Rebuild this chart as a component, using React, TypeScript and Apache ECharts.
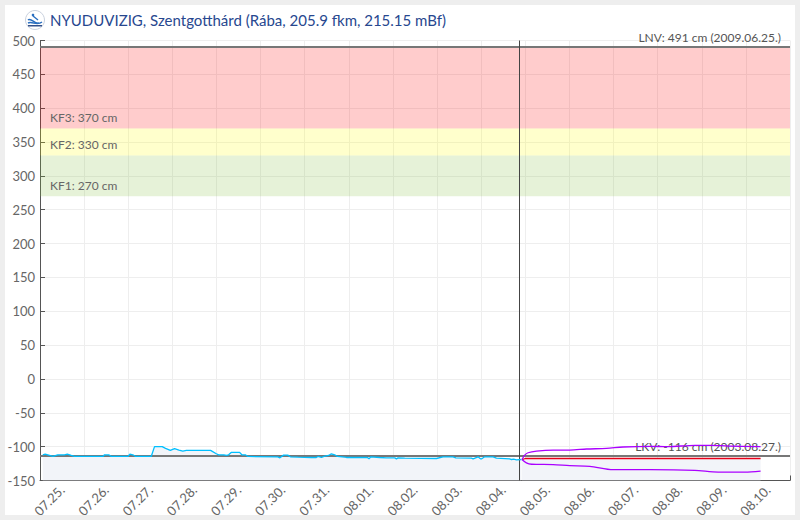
import React, { useEffect, useRef } from "react";
import * as echarts from "echarts";

const titleText = "NYUDUVIZIG, Szentgotthárd (Rába, 205.9 fkm, 215.15 mBf)";
const days = ["07.25.", "07.26.", "07.27.", "07.28.", "07.29.", "07.30.", "07.31.", "08.01.", "08.02.", "08.03.", "08.04.", "08.05.", "08.06.", "08.07.", "08.08.", "08.09.", "08.10."];

// [hours since 07.25. 00:00, water level in cm]
const observed = [
  [1.5, -112], [2.8, -111], [5.2, -113], [7, -114.5], [9.7, -112], [13.3, -112], [14.8, -111], [17, -113], [18.8, -114.5],
  [34.2, -114.5], [35.1, -112], [37.4, -112], [38.8, -114.5], [47.8, -114.5], [48.9, -111], [50.5, -112], [52, -114.5],
  [60.5, -114.5], [62.3, -100], [66.5, -100], [68.3, -102.5], [70.9, -105.5], [73.2, -103], [75.6, -105], [77.7, -106.5],
  [79.6, -105.5], [92.8, -105.5], [95.9, -110.5], [97.2, -112], [100, -112], [101.4, -113], [102.6, -112], [104, -108.5],
  [108.6, -108.5], [109.8, -112], [111.7, -112], [113.1, -114.5], [129.4, -115], [130.5, -116.5], [132.5, -112.5],
  [134.8, -112.5], [136.2, -115], [140.3, -115.5], [147.6, -116], [150.3, -116], [151.2, -114.5], [153.1, -116],
  [154.5, -114.5], [157, -113], [158.5, -110.5], [160.3, -112], [161.8, -114.5], [165.7, -115.5], [166.7, -116],
  [178.1, -116], [179, -118], [179.9, -115], [184.8, -116], [188.4, -116.5], [193, -116.5], [193.9, -118], [194.8, -116.5],
  [198.4, -117], [215.7, -117.5], [219.2, -115], [224.7, -115], [226.2, -116.5], [234.7, -117], [235.6, -118], [238.3, -115],
  [239.6, -118], [240.3, -118], [241.9, -115], [246.5, -115], [248.3, -117], [255.5, -118], [256.5, -119], [257.7, -118.5],
  [259.2, -119.5], [261.9, -119],
];
const forecast = [[262.2, -119], [264, -117.5], [300, -117.5], [350, -117.5], [392, -117.5]];
const forecastHigh = [
  [262.2, -119], [263.7, -112.5], [265.5, -109], [270.1, -106.5], [279.1, -105], [288.2, -105], [297.3, -103.5], [308.2, -102.5],
  [317.2, -100.5], [331.8, -99.5], [341.6, -100], [356.2, -98], [365.3, -98], [374.2, -99], [392, -100],
];
const forecastLow = [
  [262.2, -119], [264.6, -124], [267.4, -126], [279.1, -126.5], [288.2, -128], [299.1, -129], [311.8, -134], [331.8, -134],
  [356.2, -135], [368.9, -137.5], [383.5, -137.5], [392, -136],
];
const nowHour = 260.7;
const lnv = 491;
const lkvDrawn = -113.5;
const kf1 = 270;
const kf2 = 330;
const kf3 = 370;

const FONT = "Lato";

export default function App() {
  const ref = useRef<HTMLDivElement>(null);
  useEffect(() => {
    const chart = echarts.init(ref.current!, undefined, { renderer: "svg" });
    const zoneLabel = (text: string) => ({
      show: true,
      formatter: text,
      position: "insideBottomLeft",
      distance: 5,
      padding: [0, 0, 0, 5],
      color: "#666",
      fontSize: 12,
      fontFamily: FONT,
    });
    const refLabel = (text: string) => ({
      show: true,
      formatter: text,
      position: "insideEndTop",
      distance: 3,
      padding: [0, 6, 0, 0],
      color: "#555",
      fontSize: 12,
      fontFamily: FONT,
    });
    const areaLine = { width: 0, opacity: 0 };
    chart.setOption({
      animation: false,
      backgroundColor: "transparent",
      title: {
        text: titleText,
        left: 50,
        top: 12.5,
        padding: 0,
        textStyle: { color: "#27478f", fontSize: 15, fontWeight: "normal", fontFamily: FONT },
      },
      graphic: [
        { type: "circle", shape: { cx: 35, cy: 20, r: 9.5 }, style: { fill: "#fff", stroke: "#c9d1de", lineWidth: 1 }, silent: true },
        { type: "bezierCurve", shape: { x1: 28, y1: 20, x2: 39, y2: 23, cpx1: 31, cpy1: 17, cpx2: 35, cpy2: 25 }, style: { fill: "none", stroke: "#2a6fc0", lineWidth: 1.5 }, silent: true },
        { type: "bezierCurve", shape: { x1: 28, y1: 23, x2: 42, y2: 22, cpx1: 32, cpy1: 21, cpx2: 37, cpy2: 26 }, style: { fill: "none", stroke: "#2a6fc0", lineWidth: 1.5 }, silent: true },
        { type: "circle", shape: { cx: 33, cy: 15, r: 1.3 }, style: { fill: "#2a6fc0" }, silent: true },
        { type: "line", shape: { x1: 33, y1: 16, x2: 38, y2: 20 }, style: { stroke: "#2a6fc0", lineWidth: 1.5 }, silent: true },
        { type: "rect", shape: { x: 28, y: 25, width: 14, height: 1.5 }, style: { fill: "#33508a" }, silent: true },
      ],
      grid: { left: 40, right: 10, top: 40.5, bottom: 39.5, containLabel: false },
      xAxis: [
        {
          type: "category",
          data: days,
          boundaryGap: true,
          axisLine: { show: true, onZero: false, lineStyle: { color: "#555" } },
          axisTick: { show: true, inside: true, length: 5, interval: 0, lineStyle: { color: "#555" } },
          axisLabel: { interval: 0, rotate: 45, color: "#666", fontSize: 13, fontFamily: FONT, margin: 7 },
          splitLine: { show: true, interval: 0, lineStyle: { color: "#eee", width: 1 } },
        },
        { type: "value", min: 0, max: 408, show: false, splitLine: { show: false } },
      ],
      yAxis: {
        type: "value",
        min: -150,
        max: 500,
        interval: 50,
        axisLine: { show: true, lineStyle: { color: "#555" } },
        axisTick: { show: true, inside: true, length: 5, lineStyle: { color: "#555" } },
        axisLabel: { color: "#666", fontSize: 13, fontFamily: FONT, margin: 5 },
        splitLine: { show: true, lineStyle: { color: "#eee", width: 1 } },
      },
      series: [
        {
          type: "line",
          xAxisIndex: 1,
          data: observed,
          showSymbol: false,
          z: 3,
          lineStyle: areaLine,
          areaStyle: { color: "#f2f4f9", origin: "start", opacity: 1 },
          markArea: {
            silent: true,
            z: 1,
            data: [
              [{ yAxis: kf3, itemStyle: { color: "rgba(255,0,0,0.2)" }, label: zoneLabel(`KF3: ${kf3} cm`) }, { yAxis: lnv }],
              [{ yAxis: kf2, itemStyle: { color: "rgba(255,255,0,0.2)" }, label: zoneLabel(`KF2: ${kf2} cm`) }, { yAxis: kf3 }],
              [{ yAxis: kf1, itemStyle: { color: "rgba(130,190,60,0.2)" }, label: zoneLabel(`KF1: ${kf1} cm`) }, { yAxis: kf2 }],
            ],
          },
        },
        {
          type: "line",
          xAxisIndex: 1,
          data: forecast,
          showSymbol: false,
          z: 3,
          lineStyle: areaLine,
          areaStyle: { color: "#f2f4f9", origin: "start", opacity: 1 },
        },
        {
          type: "line",
          xAxisIndex: 1,
          data: [],
          z: 4,
          markLine: {
            silent: true,
            symbol: "none",
            data: [
              { yAxis: lnv, lineStyle: { color: "#777", width: 2, type: "solid" }, label: refLabel("LNV: 491 cm (2009.06.25.)") },
              { yAxis: lkvDrawn, lineStyle: { color: "#777", width: 2, type: "solid" }, label: refLabel("LKV: -116 cm (2003.08.27.)") },
              { xAxis: nowHour, lineStyle: { color: "#444", width: 1, type: "solid" }, label: { show: false } },
            ],
          },
        },
        {
          type: "line",
          xAxisIndex: 1,
          data: observed,
          showSymbol: false,
          z: 5,
          lineStyle: { color: "#00bfff", width: 1.3 },
        },
        {
          type: "line",
          xAxisIndex: 1,
          data: forecast,
          showSymbol: false,
          z: 5,
          lineStyle: { color: "#e8001a", width: 1.3 },
        },
        {
          type: "line",
          xAxisIndex: 1,
          data: forecastHigh,
          showSymbol: false,
          smooth: 0.3,
          z: 5,
          lineStyle: { color: "#aa00ff", width: 1.3 },
        },
        {
          type: "line",
          xAxisIndex: 1,
          data: forecastLow,
          showSymbol: false,
          smooth: 0.3,
          z: 5,
          lineStyle: { color: "#aa00ff", width: 1.3 },
        },
      ],
    });
    return () => chart.dispose();
  }, []);
  return (
    <div style={{ position: "absolute", left: 0, top: 0, width: 800, height: 520, background: "#eee", overflow: "hidden" }}>
      <div style={{ position: "absolute", left: 5, top: 5, width: 790, height: 510, background: "#fff" }} />
      <div ref={ref} style={{ position: "absolute", left: 0, top: 0, width: 800, height: 520 }} />
    </div>
  );
}
